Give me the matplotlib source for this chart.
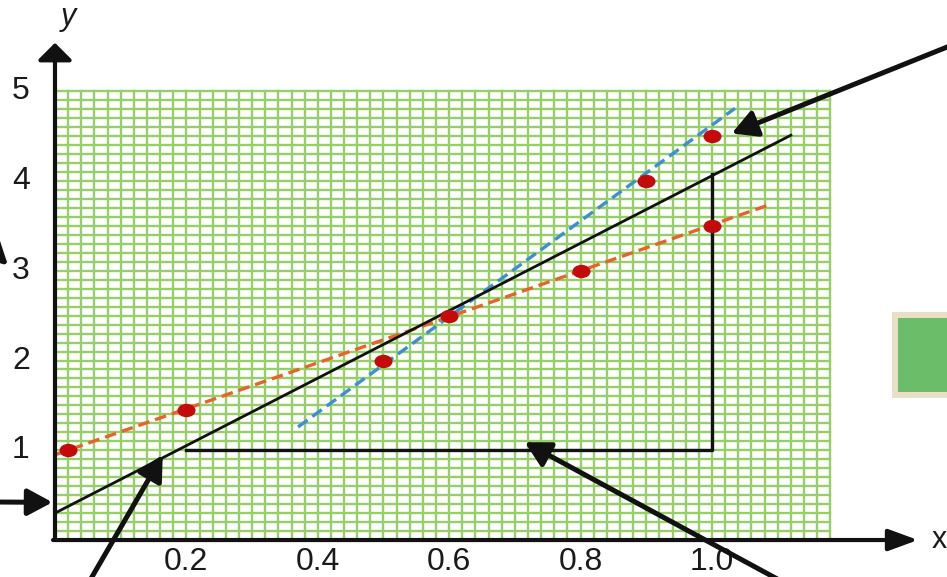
import numpy as np
import matplotlib.pyplot as plt
from matplotlib.patches import Rectangle
from matplotlib.path import Path

# measured points (red dots)
x_pts = [0.02, 0.2, 0.5, 0.6, 0.8, 0.9, 1.0, 1.0]
y_pts = [1.0, 1.45, 2.0, 2.5, 3.0, 4.0, 3.5, 4.5]

# straight lines, given by their end points
orange_x = [0.0, 1.085]
orange_y = [0.95, 3.73]
blue_x = [0.37, 1.035]
blue_y = [1.26, 4.81]
black_x = [0.0, 1.12]
black_y = [0.3, 4.51]

# gradient triangle
tri_x = [0.2, 1.0, 1.0]
tri_y = [1.0, 1.0, 4.08]

xticks = [0.2, 0.4, 0.6, 0.8, 1.0]
xtick_labels = ['0.2', '0.4', '0.6', '0.8', '1.0']
yticks = [1, 2, 3, 4, 5]

plt.rcParams['font.family'] = ['Liberation Sans', 'DejaVu Sans']

fig = plt.figure(figsize=(9.47, 5.77), dpi=100)
ax = fig.add_axes([0, 0, 1, 1])
ax.set_xlim(-0.0837, 1.3577)
ax.set_ylim(-0.412, 6.017)
ax.axis('off')

# graph paper
grid_col = '#96ce69'
for gx in np.arange(0, 1.1801, 0.02):
    ax.plot([gx, gx], [0, 5], color=grid_col, lw=1.7, zorder=1)
for gy in np.arange(0, 5.001, 0.1):
    ax.plot([0, 1.18], [gy, gy], color=grid_col, lw=1.7, zorder=1)

# axes with arrows
ax.annotate('', xy=(0, 5.54), xytext=(0, 0),
            arrowprops=dict(arrowstyle='-|>,head_length=0.35,head_width=0.35',
                            lw=3, color='#111111', mutation_scale=30,
                            shrinkA=0, shrinkB=0), zorder=5)
ax.annotate('', xy=(1.3135, 0), xytext=(-0.003, 0),
            arrowprops=dict(arrowstyle='-|>,head_length=0.6,head_width=0.22',
                            lw=3, color='#111111', mutation_scale=30,
                            shrinkA=0, shrinkB=0), zorder=5)
ax.text(0.02, 5.83, 'y', fontsize=22, style='italic', ha='center', va='center',
        color='#1a1a1a')
ax.text(1.335, 0.0, 'x', fontsize=22, ha='left', va='center', color='#1a1a1a')

for t in yticks:
    ax.text(-0.052, t, str(t), fontsize=23, ha='center', va='center', color='#1a1a1a')
for t, lab in zip(xticks, xtick_labels):
    ax.text(t, -0.25, lab, fontsize=23, ha='center', va='center', color='#1a1a1a')

# lines
ax.plot(orange_x, orange_y, color='#e8632a', lw=2.4, dashes=(3.5, 1.8), zorder=3)
ax.plot(blue_x, blue_y, color='#3d8fd1', lw=2.4, dashes=(3.5, 1.8), zorder=3)
ax.plot(black_x, black_y, color='#111111', lw=2.0, zorder=3)
ax.plot(tri_x, tri_y, color='#111111', lw=2.4, zorder=3)

# dots are a little wider than tall in the picture
circ = Path.unit_circle()
oval = Path(circ.vertices * [1.35, 1.0], circ.codes)
ax.plot(x_pts, y_pts, linestyle='none', marker=oval, color='#c40a0a', ms=13,
        mec='none', zorder=4)

# pointer arrows
arrow_kw = dict(arrowstyle='-|>,head_length=0.5,head_width=0.27', lw=3.6,
                color='#111111', mutation_scale=30, shrinkA=0, shrinkB=0)
ax.annotate('', xy=(1.03, 4.53), xytext=(1.01, 0.925), textcoords='figure fraction',
            arrowprops=arrow_kw, annotation_clip=False, zorder=6)
ax.annotate('', xy=(-0.0715, 3.06), xytext=(-0.03, 0.6), textcoords='figure fraction',
            arrowprops=arrow_kw, annotation_clip=False, zorder=6)
ax.annotate('', xy=(-0.004, 0.42), xytext=(-0.01, 0.13), textcoords='figure fraction',
            arrowprops=arrow_kw, annotation_clip=False, zorder=6)
ax.annotate('', xy=(0.164, 0.947), xytext=(0.09, -0.02), textcoords='figure fraction',
            arrowprops=arrow_kw, annotation_clip=False, zorder=6)
ax.annotate('', xy=(0.715, 1.09), xytext=(0.845, -0.025), textcoords='figure fraction',
            arrowprops=arrow_kw, annotation_clip=False, zorder=6)

# green box at the right edge
fig.patches.append(Rectangle((0.942, 0.31), 0.06, 0.149, transform=fig.transFigure,
                             facecolor='#e9dfc6', edgecolor='none', zorder=0))
fig.patches.append(Rectangle((0.948, 0.32), 0.06, 0.129, transform=fig.transFigure,
                             facecolor='#6bbd6a', edgecolor='none', zorder=1))

plt.savefig('out.png', dpi=100)
